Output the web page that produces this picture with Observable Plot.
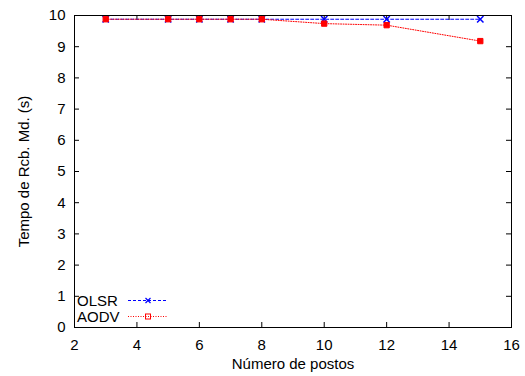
<!DOCTYPE html>
<html><head><meta charset="utf-8">
<script src="https://cdn.jsdelivr.net/npm/d3@7"></script>
<script src="https://cdn.jsdelivr.net/npm/@observablehq/plot@0.6"></script>
<style>
body{margin:0;background:#fff;}
#wrap{position:relative;width:525px;height:376px;}
#legend{position:absolute;left:0;top:0;pointer-events:none;}
text{font-family:"Liberation Sans",Arial,sans-serif;}
</style>
</head><body>
<div id="wrap"></div>
<script>
const postos = [3, 5, 6, 7, 8, 10, 12, 15];
const olsr = [9.88, 9.88, 9.88, 9.88, 9.88, 9.88, 9.88, 9.88];
const aodv = [9.88, 9.88, 9.88, 9.88, 9.88, 9.74, 9.69, 9.18];
const seriesNames = ["OLSR", "AODV"];
const xTicks = [2, 4, 6, 8, 10, 12, 14, 16];
const yTicks = [0, 1, 2, 3, 4, 5, 6, 7, 8, 9, 10];

const W = 525, H = 376, mL = 74, mR = 14, mT = 15, mB = 49;
const ph = H - mT - mB, pw = W - mL - mR;
const olsrData = postos.map((x, i) => ({x, y: olsr[i]}));
const aodvData = postos.map((x, i) => ({x, y: aodv[i]}));
const blue = "#0000ff", red = "#ff0000";
const font = "Liberation Sans, Arial, sans-serif";

const chart = Plot.plot({
  width: W, height: H,
  marginLeft: mL, marginRight: mR, marginTop: mT, marginBottom: mB,
  style: {fontFamily: font, fontSize: "15px", background: "white", color: "black"},
  x: {domain: [2, 16], ticks: xTicks, label: "Número de postos", labelAnchor: "center", labelArrow: "none"},
  y: {domain: [0, 10], ticks: yTicks, label: "Tempo de Rcb. Md. (s)", labelAnchor: "center", labelArrow: "none"},
  marks: [
    Plot.ruleX(xTicks, {x: d => d, insetTop: ph - 5, stroke: "black"}),
    Plot.ruleX(xTicks, {x: d => d, insetBottom: ph - 5, stroke: "black"}),
    Plot.ruleY(yTicks, {y: d => d, insetRight: pw - 5, stroke: "black"}),
    Plot.ruleY(yTicks, {y: d => d, insetLeft: pw - 5, stroke: "black"}),
    Plot.axisX({ticks: xTicks, tickSize: 0, tickPadding: 12, fontSize: 15, label: "Número de postos", labelOffset: 41, labelAnchor: "center", labelArrow: "none"}),
    Plot.axisY({ticks: yTicks, tickSize: 0, tickPadding: 9, fontSize: 15, label: "Tempo de Rcb. Md. (s)", labelOffset: 56, labelAnchor: "center", labelArrow: "none"}),
    Plot.line(olsrData, {x: "x", y: "y", stroke: blue, strokeWidth: 1, strokeDasharray: "3,2"}),
    Plot.dot(olsrData, {x: "x", y: "y", symbol: "times", r: 3, stroke: blue, strokeWidth: 1.5}),
    Plot.line(aodvData, {x: "x", y: "y", stroke: red, strokeWidth: 1, strokeDasharray: "1,1.5"}),
    Plot.dot(aodvData, {x: "x", y: "y", symbol: "square", r: 3, stroke: red, fill: red, strokeWidth: 1}),
    Plot.frame({stroke: "black", strokeWidth: 1})
  ]
});
const wrap = document.getElementById("wrap");
wrap.appendChild(chart);

// legend overlay
const ns = "http://www.w3.org/2000/svg";
const lg = document.createElementNS(ns, "svg");
lg.setAttribute("id", "legend");
lg.setAttribute("width", W); lg.setAttribute("height", H);
const entries = [
  {name: seriesNames[0], color: blue, dash: "3,2", sym: "x", cy: 300.5},
  {name: seriesNames[1], color: red, dash: "1,1.5", sym: "sq", cy: 316.5}
];
for (const e of entries) {
  const t = document.createElementNS(ns, "text");
  t.setAttribute("x", 77); t.setAttribute("y", e.cy + 5.5);
  t.setAttribute("font-size", "15"); t.setAttribute("font-family", font);
  t.textContent = e.name; lg.appendChild(t);
  const l = document.createElementNS(ns, "line");
  l.setAttribute("x1", 128); l.setAttribute("x2", 168);
  l.setAttribute("y1", e.cy); l.setAttribute("y2", e.cy);
  l.setAttribute("stroke", e.color); l.setAttribute("stroke-dasharray", e.dash);
  lg.appendChild(l);
  if (e.sym === "x") {
    const p = document.createElementNS(ns, "path");
    p.setAttribute("d", `M145.5,${e.cy-2.5}L150.5,${e.cy+2.5}M145.5,${e.cy+2.5}L150.5,${e.cy-2.5}`);
    p.setAttribute("stroke", e.color); p.setAttribute("stroke-width", 1.2);
    lg.appendChild(p);
  } else {
    const r = document.createElementNS(ns, "rect");
    r.setAttribute("x", 145.5); r.setAttribute("y", e.cy - 2.5);
    r.setAttribute("width", 5); r.setAttribute("height", 5);
    r.setAttribute("fill", "none"); r.setAttribute("stroke", e.color);
    lg.appendChild(r);
  }
}
wrap.appendChild(lg);
</script>
</body></html>
